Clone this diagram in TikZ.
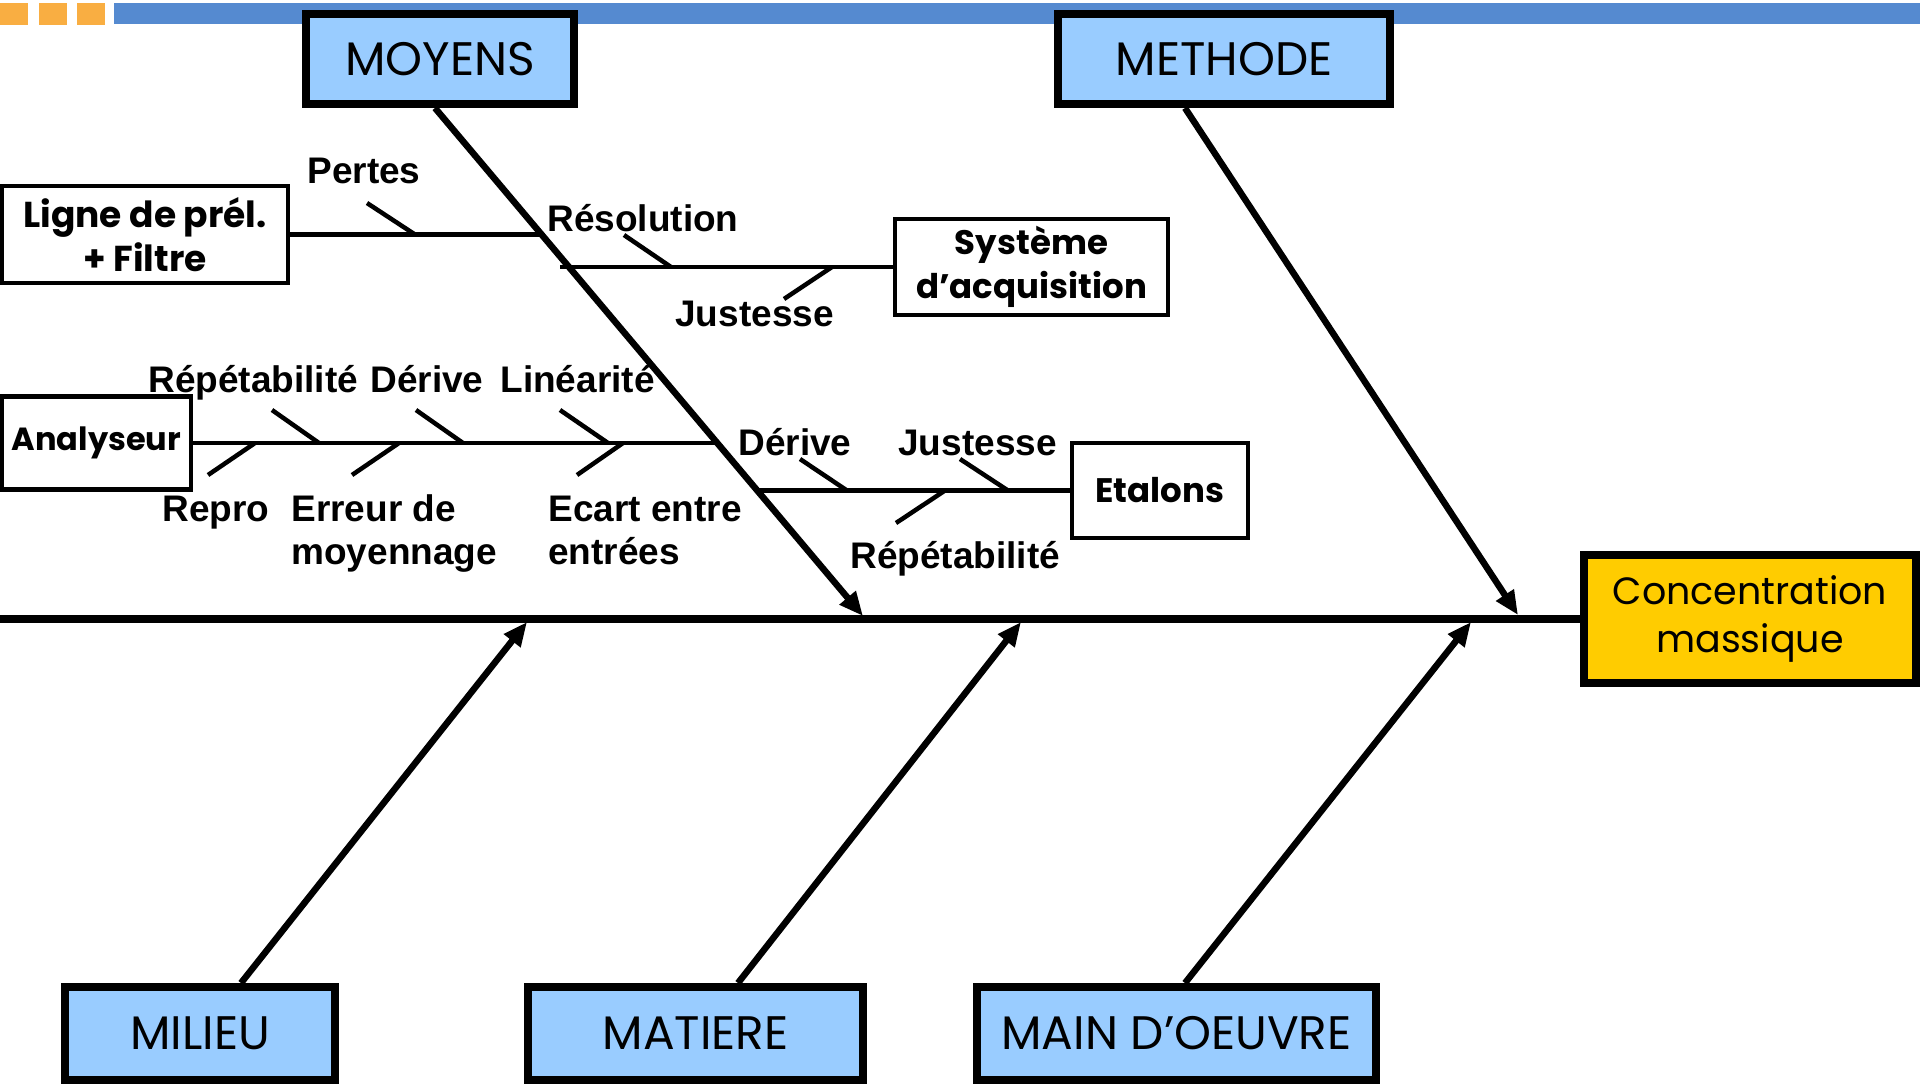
\documentclass[tikz,border=0pt]{standalone}
\usepackage{fontspec}
\setmainfont{Liberation Sans}
\newfontfamily\hand{Poppins}
\usetikzlibrary{arrows.meta,calc}
\definecolor{capblue}{HTML}{99CCFF}
\definecolor{effgold}{HTML}{FFCC00}
\definecolor{barblue}{HTML}{558AD0}
\definecolor{barorange}{HTML}{F9AE42}

\begin{document}
\begin{tikzpicture}[x=0.5pt,y=-0.5pt,
  catbox/.style={draw,line width=4pt,fill=capblue,inner sep=0pt,
    minimum height=45pt,font=\hand\fontsize{23.5}{27}\selectfont},
  subbox/.style={draw,line width=2.25pt,fill=white,inner sep=0pt,align=center,
    font=\hand\bfseries\fontsize{17}{22}\selectfont},
  bone/.style={line width=3.25pt,-{Triangle[length=12pt,width=10pt]}},
  twig/.style={line width=2.25pt},
  lbl/.style={anchor=base west,inner sep=0pt,font=\bfseries\fontsize{18.5}{20}\selectfont},
]
\useasboundingbox (0,0) rectangle (1920,1084);

% header band
\fill[barorange] (0,3) rectangle (28,25);
\fill[barorange] (39,3) rectangle (67,25);
\fill[barorange] (77,3) rectangle (105,25);
\fill[barblue] (114,3) rectangle (1920,24);

% effect box and spine
\node[draw,line width=4pt,fill=effgold,inner sep=0pt,minimum width=166pt,minimum height=64pt,
  align=center,font=\hand\fontsize{19}{24}\selectfont] (effect) at (1750,619)
  {Concentration\\massique};
\coordinate (tail) at (0,619);
\draw[line width=3.75pt] (tail) -- (effect.west);

% category boxes
\node[catbox,minimum width=134pt] (moyens) at (440,59) {MOYENS};
\node[catbox,minimum width=166pt] (methode) at (1224,59) {METHODE};
\node[catbox,minimum width=135pt,minimum height=46.5pt] (milieu) at (200,1033.5) {MILIEU};
\node[catbox,minimum width=167.5pt,minimum height=46.5pt] (matiere) at (695.5,1033.5) {MATIERE};
\node[catbox,minimum width=199.5pt,minimum height=46.5pt] (main) at (1176.5,1033.5) {MAIN D’OEUVRE};

% arrival points on the spine
\coordinate (tipmoy) at (863,616);
\coordinate (tipmet) at (1518,615);
\coordinate (tipmil) at (527,622);
\coordinate (tipmat) at (1021,622);
\coordinate (tipmain) at (1471,622);

% main bones
\draw[bone] ($(moyens.south)+(-5,0)$) -- (tipmoy);
\draw[bone] ($(methode.south)+(-39,0)$) -- (tipmet);
\draw[bone] ($(milieu.north)+(41,0)$) -- (tipmil);
\draw[bone] ($(matiere.north)+(42.5,0)$) -- (tipmat);
\draw[bone] ($(main.north)+(8.5,0)$) -- (tipmain);

% secondary causes on MOYENS
\node[subbox,minimum width=143pt,minimum height=48.5pt,font=\hand\bfseries\fontsize{18}{22}\selectfont]
  (ligne) at (145,234.5) {Ligne de prél.\\+ Filtre};
\node[subbox,minimum width=136.5pt,minimum height=48pt] (acq) at (1031.5,267) {Système\\d’acquisition};
\node[subbox,minimum width=94.5pt,minimum height=46.5pt,font=\hand\bfseries\fontsize{16}{20}\selectfont]
  (analyseur) at (96.5,443) {Analyseur};
\node[subbox,minimum width=88pt,minimum height=47.5pt] (etalons) at (1160,490.5) {Etalons};

\coordinate (jligne) at (543,234.5);
\coordinate (jacq) at (560,267);
\coordinate (jana) at (718,443);
\coordinate (jeta) at (758,490.5);
\draw[twig] (ligne.east) -- (jligne);
\draw[twig] (jacq) -- (acq.west);
\draw[twig] (analyseur.east) -- (jana);
\draw[twig] (jeta) -- (etalons.west);

% small ticks
\draw[twig] (367,203) -- (415,234.5);
\draw[twig] (624,235) -- (671,267);
\draw[twig] (784,299) -- (832,267);
\draw[twig] (272,410) -- (319,443);
\draw[twig] (416,410) -- (463,443);
\draw[twig] (560,410) -- (608,443);
\draw[twig] (208,475) -- (255,443);
\draw[twig] (352,475) -- (399,443);
\draw[twig] (577,475) -- (623,443);
\draw[twig] (800,459) -- (847,490.5);
\draw[twig] (960,459) -- (1008,490.5);
\draw[twig] (896,523) -- (945,490.5);

% tick labels
\node[lbl] (pertes) at (307,183) {Pertes};
\node[lbl] (resol) at (547,231) {Résolution};
\node[lbl] (justa) at (675,326) {Justesse};
\node[lbl] (repa) at (148,392) {Répétabilité};
\node[lbl] (deria) at (370,392) {Dérive};
\node[lbl] (linea) at (500,392) {Linéarité};
\node[lbl] (repro) at (162,521) {Repro};
\node[lbl] (erra) at (291,521) {Erreur de};
\node[lbl] (errb) at (291,564) {moyennage};
\node[lbl] (ecarta) at (548,521) {Ecart entre};
\node[lbl] (ecartb) at (548,564) {entrées};
\node[lbl] (derie) at (738,455) {Dérive};
\node[lbl] (juste) at (898,455) {Justesse};
\node[lbl] (repe) at (850,568) {Répétabilité};
\end{tikzpicture}
\end{document}
